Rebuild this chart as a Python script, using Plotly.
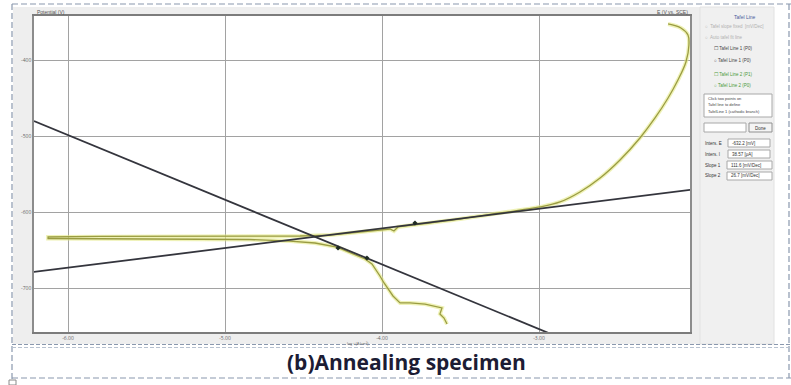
import plotly.graph_objects as go

# ---------------- data ----------------
x_tick_vals = [-6, -5, -4, -3]
x_tick_text = ["-6.00", "-5.00", "-4.00", "-3.00"]
y_tick_vals = [-400, -500, -600, -700]
y_tick_text = ["-400", "-500", "-600", "-700"]

# polarization curve (log i vs potential)
curve_x = [-2.178, -2.096, -2.051, -2.045, -2.064, -2.115, -2.178, -2.261, -2.357, -2.484,
           -2.611, -2.739, -2.866, -2.994, -3.248, -3.503, -3.803, -3.898, -3.924, -3.949,
           -4.140, -4.331, -4.522, -5.159, -5.796, -6.127, -6.127, -5.478, -4.841, -4.586,
           -4.427, -4.287, -4.191, -4.108, -4.064, -4.032, -4.013, -3.987, -3.962, -3.930,
           -3.885, -3.822, -3.726, -3.650, -3.618, -3.631, -3.605, -3.586]
curve_y = [-352.6, -357.9, -367.1, -380.3, -402.6, -426.3, -450.0, -476.3, -502.6, -531.6,
           -555.3, -573.7, -586.8, -593.4, -601.3, -609.2, -617.1, -619.7, -625.0, -622.4,
           -626.3, -630.3, -631.6, -631.6, -632.2, -632.9, -634.9, -635.5, -636.2, -638.2,
           -640.8, -646.1, -654.0, -661.8, -668.4, -677.6, -684.2, -693.4, -701.3, -710.5,
           -719.7, -719.7, -721.1, -725.0, -726.3, -734.2, -739.5, -747.4]
smooth_end = 17  # the anodic (upper) branch is a smooth curve

# Tafel fit lines
fit1_x = [-6.217, -2.93]
fit1_y = [-480.3, -760.0]
fit2_x = [-6.217, -2.038]
fit2_y = [-678.9, -571.0]

# selected fit points
pts_x = [-4.280, -4.096, -3.790]
pts_y = [-647.4, -660.5, -614.5]

caption = "(b)Annealing specimen"

# ---------------- figure ----------------
W, H = 791, 385
def px(v): return v / W
def py(v): return 1 - v / H

fig = go.Figure()
parts = [(curve_x[:smooth_end], curve_y[:smooth_end], "spline"),
         (curve_x[smooth_end - 1:], curve_y[smooth_end - 1:], "linear")]
for cx, cy, shp in parts:
    fig.add_trace(go.Scatter(x=cx, y=cy, mode="lines",
                             line=dict(color="rgba(228,234,135,0.6)", width=4, shape=shp),
                             hoverinfo="skip"))
for cx, cy, shp in parts:
    fig.add_trace(go.Scatter(x=cx, y=cy, mode="lines",
                             line=dict(color="#9a9c42", width=1.3, shape=shp)))
fig.add_trace(go.Scatter(x=fit1_x, y=fit1_y, mode="lines",
                         line=dict(color="#34353d", width=1.8)))
fig.add_trace(go.Scatter(x=fit2_x, y=fit2_y, mode="lines",
                         line=dict(color="#34353d", width=1.8)))
fig.add_trace(go.Scatter(x=pts_x, y=pts_y, mode="markers",
                         marker=dict(color="#1e2a22", size=4, symbol="diamond")))

shapes = []
shapes.append(dict(type="rect", xref="paper", yref="paper", x0=px(13), x1=px(774), y0=py(344), y1=py(7),
                   fillcolor="#eeeeee", line=dict(width=0), layer="below"))
shapes.append(dict(type="rect", xref="paper", yref="paper", x0=px(700), x1=px(774), y0=py(344), y1=py(7),
                   fillcolor="#f0f0f0", line=dict(color="#e2e2e2", width=1), layer="below"))
shapes.append(dict(type="rect", xref="paper", yref="paper", x0=px(34), x1=px(690), y0=py(332), y1=py(16),
                   fillcolor="white", line=dict(width=0), layer="below"))
dash_c = "#8a98ae"
shapes.append(dict(type="line", xref="paper", yref="paper", x0=px(12), x1=px(791), y0=py(4), y1=py(4),
                   line=dict(color=dash_c, width=1.2, dash="6px,3px")))
shapes.append(dict(type="line", xref="paper", yref="paper", x0=px(12), x1=px(12), y0=py(4), y1=py(385),
                   line=dict(color=dash_c, width=1.2, dash="6px,3px")))
shapes.append(dict(type="line", xref="paper", yref="paper", x0=px(789), x1=px(789), y0=py(4), y1=py(378),
                   line=dict(color=dash_c, width=1.2, dash="6px,3px")))
shapes.append(dict(type="line", xref="paper", yref="paper", x0=px(12), x1=px(791), y0=py(344.5), y1=py(344.5),
                   line=dict(color=dash_c, width=1.2, dash="4px,2px")))
shapes.append(dict(type="line", xref="paper", yref="paper", x0=px(12), x1=px(791), y0=py(347.5), y1=py(347.5),
                   line=dict(color="#b8c2d0", width=1, dash="4px,2px")))
shapes.append(dict(type="line", xref="paper", yref="paper", x0=px(12), x1=px(791), y0=py(378), y1=py(378),
                   line=dict(color=dash_c, width=1.2, dash="6px,3px")))
shapes.append(dict(type="rect", xref="paper", yref="paper", x0=px(9), x1=px(16), y0=py(385), y1=py(380),
                   line=dict(color="#8a8a8a", width=1), fillcolor="white"))

def box(x0, y0, x1, y1, fill="white", lc="#a8a8a8"):
    shapes.append(dict(type="rect", xref="paper", yref="paper", x0=px(x0), x1=px(x1), y0=py(y1), y1=py(y0),
                       fillcolor=fill, line=dict(color=lc, width=1)))
box(704, 94, 772, 117)
box(704, 123, 746, 132)
box(749, 123, 772, 132, fill="#f4f4f4", lc="#909090")
box(728, 139, 770, 147)
box(728, 150, 770, 158)
box(727, 161, 772, 169)
box(727, 172, 772, 180)

anns = []
def txt(x, y, s, size=5, color="#444", anchor="left", bold=False, family="Liberation Sans"):
    anns.append(dict(x=px(x), y=py(y), xref="paper", yref="paper", text=("<b>%s</b>" % s if bold else s),
                     showarrow=False, xanchor=anchor, yanchor="middle",
                     font=dict(size=size, color=color, family=family)))

txt(35, 12, "Potential (V)", size=5, color="#555")
txt(690, 12, "E (V vs. SCE)", size=5, color="#555", anchor="right")
txt(358, 343, "log i (A/cm²)", size=4, color="#777", anchor="center")

txt(745, 17, "Tafel Line", color="#4a5c9c", anchor="center")
txt(703, 26, "○  Tafel slope fixed  [mV/Dec]", size=4.5, color="#b0b0b0")
txt(703, 37, "○  Auto tafel fit line", size=4.5, color="#b0b0b0")
txt(712, 49, "☐ Tafel Line 1 (P0)", size=4.5, color="#444")
txt(712, 61, "○ Tafel Line 1 (P0)", size=4.5, color="#444")
txt(712, 74, "☐ Tafel Line 2 (P1)", size=4.5, color="#4a9a3a")
txt(712, 86, "○ Tafel Line 2 (P0)", size=4.5, color="#4a9a3a")
txt(706, 99, "Click two points on", size=4, color="#444")
txt(706, 105, "Tafel line to define", size=4, color="#444")
txt(706, 111, "TafelLine 1 (cathodic branch)", size=4, color="#444")
txt(760.5, 128, "Done", size=4.5, color="#333", anchor="center")
txt(703, 143, "Inters. E", size=4.5, color="#333")
txt(730, 143, "-632.2 [mV]", size=4.5, color="#333")
txt(703, 154, "Inters. I", size=4.5, color="#333")
txt(730, 154, "38.57 [μA]", size=4.5, color="#333")
txt(703, 165, "Slope 1", size=4.5, color="#333")
txt(729, 165, "111.6 [mV/Dec]", size=4.5, color="#333")
txt(703, 176, "Slope 2", size=4.5, color="#333")
txt(729, 176, "26.7 [mV/Dec]", size=4.5, color="#333")

txt(406, 362, caption, size=21, color="#1c1c34", anchor="center", bold=True, family="Open Sans")

fig.update_layout(
    width=W, height=H, margin=dict(l=0, r=0, t=0, b=0),
    paper_bgcolor="white", plot_bgcolor="white", showlegend=False,
    shapes=shapes, annotations=anns,
    xaxis=dict(domain=[px(34), px(690)], range=[-6.2166, -2.0382], tickvals=x_tick_vals, ticktext=x_tick_text,
               showgrid=True, gridcolor="#a2a2a2", gridwidth=1.3, zeroline=False,
               showline=True, linecolor="#7c7c7c", linewidth=2, mirror=True,
               tickfont=dict(size=5, color="#666"), ticks=""),
    yaxis=dict(domain=[py(332), py(16)], range=[-757.9, -342.1], tickvals=y_tick_vals, ticktext=y_tick_text,
               showgrid=True, gridcolor="#a2a2a2", gridwidth=1.3, zeroline=False,
               showline=True, linecolor="#8c8c8c", linewidth=1.5, mirror=True,
               tickfont=dict(size=5, color="#666"), ticks=""),
)

fig.write_html("out.html", config={"displayModeBar": False},
               post_script="document.body.style.margin='0';document.body.style.overflow='hidden';")
